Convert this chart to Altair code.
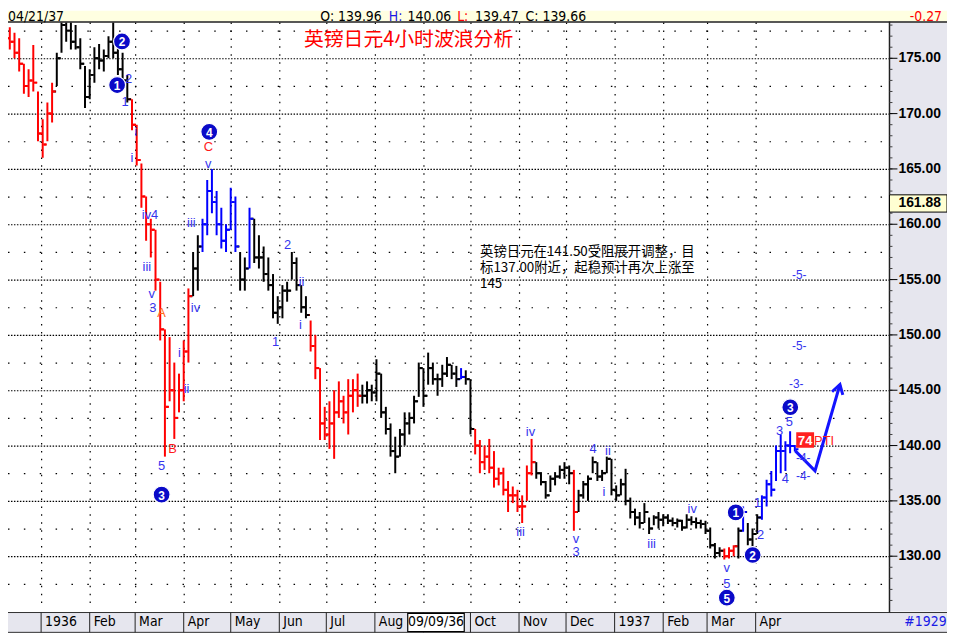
import altair as alt
import pandas as pd

EPOCH = pd.Timestamp("1936-01-01")

# ---------------- price bars (one bar every 3 days) ----------------
bar_start = "1935-12-06"
bar_step_days = 3
first_open = 177.6
highs = [178.3, 178.0, 177.8, 177.3, 176.8, 174.5, 174.0, 176.2, 172.0, 169.5,
         171.0, 172.8, 175.5, 178.5, 178.5, 178.3, 178.0, 176.8, 174.3, 174.0,
         176.0, 176.3, 175.8, 177.0, 178.3, 176.5, 175.5, 173.5, 171.3, 169.0,
         165.5, 162.5, 160.5, 159.5, 154.8, 150.5, 149.8, 147.5, 146.5, 149.5,
         154.2, 157.5, 159.0, 160.5, 164.0, 165.0, 163.0, 161.5, 160.0, 163.3,
         162.5, 157.5, 157.0, 161.5, 160.5, 159.0, 158.0, 157.0, 155.5, 153.5,
         154.5, 154.8, 157.5, 157.0, 154.5, 153.5, 151.3, 150.0, 147.0, 143.5,
         144.0, 145.0, 145.8, 144.5, 146.0, 146.0, 146.5, 145.5, 145.8, 145.5,
         147.8, 146.5, 143.5, 142.0, 140.8, 141.5, 143.0, 143.0, 144.5, 147.5,
         147.0, 148.4, 147.5, 146.5, 147.3, 148.0, 147.3, 147.2, 147.0, 146.8,
         146.0, 141.5, 140.5, 140.0, 140.6, 139.5, 138.0, 138.0, 136.8, 136.3,
         136.0, 135.5, 138.2, 140.6, 138.5, 137.6, 136.8, 137.3, 137.6, 138.2,
         138.5, 138.2, 137.8, 136.0, 136.8, 137.3, 139.0, 138.5, 137.8, 139.0,
         138.8, 136.4, 137.0, 137.9, 135.3, 134.3, 134.0, 134.8, 133.5, 133.7,
         134.0, 133.8, 133.8, 133.5, 133.4, 133.3, 133.8, 133.6, 133.5, 133.3,
         133.2, 132.6, 131.2, 130.8, 130.7, 130.8, 131.0, 132.6, 134.5, 133.0,
         132.5, 133.8, 135.5, 136.9, 137.7, 140.0, 141.0, 140.4, 141.3, 140.06]
lows = [176.5, 176.2, 175.8, 175.0, 173.8, 171.8, 171.5, 172.0, 167.5, 166.0,
        167.5, 169.2, 172.5, 175.5, 176.5, 175.8, 175.8, 174.0, 170.5, 171.3,
        172.8, 174.0, 173.8, 175.0, 175.0, 173.5, 172.5, 171.0, 168.5, 165.3,
        161.5, 158.5, 157.0, 154.0, 149.5, 139.0, 144.0, 140.6, 143.0, 144.0,
        147.5, 153.5, 154.0, 157.5, 159.0, 161.0, 159.0, 157.8, 157.5, 159.5,
        157.5, 154.0, 154.0, 156.0, 156.5, 156.0, 154.8, 154.0, 151.5, 151.0,
        151.5, 153.0, 155.0, 154.0, 152.0, 151.5, 148.5, 146.0, 140.5, 140.5,
        139.7, 138.8, 142.5, 142.0, 141.0, 143.0, 143.5, 143.8, 143.8, 144.0,
        144.0, 142.5, 141.0, 139.0, 137.5, 139.0, 140.0, 141.0, 142.0, 144.4,
        143.5, 145.5, 145.5, 144.5, 145.3, 146.2, 146.0, 145.3, 146.0, 145.5,
        141.0, 139.2, 137.5, 137.8, 137.5, 136.2, 136.4, 135.5, 134.0, 134.8,
        134.0, 133.0, 135.0, 137.3, 137.0, 136.4, 135.2, 135.8, 136.4, 137.0,
        137.0, 136.5, 132.3, 134.0, 135.2, 135.0, 137.5, 136.8, 136.8, 137.5,
        135.5, 135.0, 135.5, 134.6, 133.4, 132.8, 132.5, 133.0, 132.0, 132.8,
        132.5, 132.7, 132.9, 132.7, 132.6, 132.3, 132.5, 132.8, 132.5, 132.5,
        132.0, 130.7, 129.8, 130.0, 129.7, 129.8, 130.0, 129.8, 132.2, 131.0,
        130.9, 132.0, 133.3, 134.5, 135.4, 136.8, 137.5, 137.7, 139.3, 139.47]
closes = [177.0, 176.8, 176.5, 175.5, 174.5, 172.5, 173.0, 172.8, 168.2, 167.2,
          170.0, 172.0, 175.0, 178.0, 177.5, 176.5, 176.0, 174.5, 171.5, 173.5,
          175.0, 174.8, 175.2, 176.5, 175.5, 174.0, 173.0, 171.3, 169.0, 165.8,
          162.5, 160.0, 159.5, 155.0, 150.5, 143.5, 145.0, 142.5, 145.0, 148.5,
          153.5, 156.0, 158.0, 160.0, 163.0, 162.0, 160.0, 158.5, 159.5, 162.0,
          158.0, 155.0, 156.0, 160.5, 157.0, 157.0, 155.5, 154.5, 152.0, 152.5,
          154.0, 154.0, 156.5, 154.5, 152.5, 151.8, 149.0, 147.0, 142.0, 141.0,
          142.0, 143.0, 144.0, 143.0, 144.5, 145.0, 144.5, 144.5, 145.0, 144.8,
          146.5, 143.0, 141.5, 139.5, 139.0, 141.0, 142.0, 142.5, 144.0, 147.0,
          144.5, 147.0, 146.0, 146.0, 146.5, 147.3, 146.5, 146.0, 146.2, 146.0,
          141.5, 140.0, 138.5, 139.0, 138.0, 137.0, 137.5, 136.0, 135.5, 135.5,
          134.5, 134.5, 137.5, 138.5, 137.5, 136.7, 135.5, 137.0, 137.2, 137.8,
          138.0, 137.5, 134.0, 135.5, 136.5, 137.0, 138.5, 137.2, 137.5, 138.8,
          136.0, 135.5, 136.5, 135.0, 134.0, 133.5, 133.0, 134.0, 132.5, 133.5,
          133.3, 133.5, 133.2, 133.0, 133.2, 132.6, 133.3, 133.1, 133.0, 132.9,
          132.3, 131.0, 130.3, 130.5, 130.0, 130.5, 130.9, 132.3, 134.0, 131.5,
          132.0, 133.5, 135.3, 136.5, 136.0, 139.5, 139.5, 140.0, 139.96, 139.66]
seg_colors = ["#FF0000", "#000000", "#FF0000", "#000000", "#0000FF", "#000000",
              "#0000FF", "#000000", "#FF0000", "#000000", "#0000FF", "#000000",
              "#FF0000", "#000000", "#FF0000", "#000000", "#FF0000", "#000000",
              "#0000FF", "#000000", "#0000FF"]
seg_lengths = [12, 16, 13, 2, 8, 2, 1, 12, 11, 21, 1, 2, 13, 8, 1, 31, 3, 1, 1, 3, 8]

# ---------------- axes ----------------
price_ticks = [130, 135, 140, 145, 150, 155, 160, 165, 170, 175]
price_half = [127.5, 132.5, 137.5, 142.5, 147.5, 152.5, 157.5, 162.5, 167.5, 172.5, 177.5]
price_minor = list(range(126, 179))
month_starts = ["1936-01-01", "1936-02-01", "1936-03-01", "1936-04-01", "1936-05-01",
                "1936-06-01", "1936-07-01", "1936-08-01", "1936-09-01", "1936-10-01",
                "1936-11-01", "1936-12-01", "1937-01-01", "1937-02-01", "1937-03-01",
                "1937-04-01"]
month_names = ["1936", "Feb", "Mar", "Apr", "May", "Jun", "Jul", "Aug", "", "Oct",
               "Nov", "Dec", "1937", "Feb", "Mar", "Apr"]
cursor_date = "1936-09-09"
cursor_label = "09/09/36"
cursor_price = 161.88

# ---------------- header values ----------------
hdr_date = "04/21/37"
hdr_open, hdr_high, hdr_low, hdr_close, hdr_change = 139.96, 140.06, 139.47, 139.66, -0.27
chart_no = "#1929"

# ---------------- wave labels (day offset from 1936-01-01, price) ----------------
wave_text = ["2", "1", "i", "i", "iv4", "iii", "v", "3", "A", "5", "B", "i", "ii",
             "iii", "iv", "C", "v", "2", "ii", "i", "1", "iv", "iii", "v", "3", "4", "ii",
             "i", "iii", "iv", "v", "5", "1", "2", "3", "5", "4",
             "-4-", "-4-", "-3-", "-5-", "-5-"]
wave_day = [55.8, 53.5, 60.5, 58.0, 69.5, 67.5, 70.6, 71.3, 76.9, 76.9, 83.9, 88.3, 92.8,
            95.9, 98.5, 106.7, 106.7, 157.3, 166.2, 165.5, 149.7, 312.3, 306.0, 341.4, 341.4,
            352.2, 361.7, 359.2, 389.6, 415.5, 437.6, 437.6, 457.3, 459.2, 471.2, 477.5, 475.0,
            486.4, 486.4, 481.9, 483.8, 483.8]
wave_price = [173.10, 171.05, 168.37, 165.95, 160.85, 156.09, 153.70, 152.40, 151.97,
              138.17, 139.70, 148.39, 145.07, 160.13, 152.42, 166.95, 165.40, 158.15, 154.75,
              150.90, 149.37, 141.22, 132.17, 131.58, 130.35, 139.70, 139.52, 135.84, 131.09,
              134.23, 128.95, 127.50, 134.77, 131.90, 141.30, 142.15, 137.00, 138.85, 137.25,
              145.52, 149.01, 155.38]
abc_colors = {"A": "#FF6A1A", "B": "#FF1A1A", "C": "#FF1A1A"}

circle_text = ["2", "1", "4", "3", "1", "2", "5", "3"]
circle_day = [51.6, 48.5, 107.3, 76.9, 443.3, 454.1, 437.6, 478.1]
circle_price = [176.52, 172.58, 168.35, 135.57, 133.96, 130.11, 126.25, 143.46]

pti_day, pti_price, pti_value, pti_tag = 487.6, 140.5, "74", "PTI"
arrow_day = [481.3, 493.9, 509.8]
arrow_price = [139.52, 137.72, 145.52]

title_text = "英镑日元4小时波浪分析"
note_lines = ["英镑日元在141.50受阻展开调整，目", "标137.00附近，起稳预计再次上涨至", "145"]
note_day, note_price = 280.1, 158.1

# ================= build =================
W, H = 889, 592
xs = alt.Scale(domain=[-21.14, 541.42], nice=False, zero=False)
ys = alt.Scale(domain=[125.18, 178.23], nice=False, zero=False)


def X(f):
    return alt.X(f, type="quantitative", scale=xs, axis=None)


def Y(f):
    return alt.Y(f, type="quantitative", scale=ys, axis=None)


def day(s):
    return (pd.Timestamp(s) - EPOCH).days


n = len(closes)
cols = []
for c, k in zip(seg_colors, seg_lengths):
    cols += [c] * k
bars = pd.DataFrame({
    "d": [day(bar_start) + bar_step_days * i for i in range(n)],
    "high": highs, "low": lows, "close": closes,
    "open": [first_open] + closes[:-1],
    "col": cols,
})

one = pd.DataFrame({"k": [0]})
SANS = "Liberation Sans, Arial, sans-serif"
NARROW = "Liberation Sans Narrow, Arial Narrow, DejaVu Sans Condensed, sans-serif"
CJK = "Noto Sans CJK SC"
PANEL = "#E6E6EE"

layers = []
# backgrounds
layers.append(alt.Chart(one).mark_rect(color="white").encode(
    x=alt.value(0), x2=alt.value(W), y=alt.value(0), y2=alt.value(H)))
layers.append(alt.Chart(one).mark_rect(color=PANEL).encode(
    x=alt.value(W), x2=alt.value(947), y=alt.value(0), y2=alt.value(594)))
layers.append(alt.Chart(one).mark_rect(color=PANEL, stroke="#303030", strokeWidth=1).encode(
    x=alt.value(-1), x2=alt.value(948), y=alt.value(595), y2=alt.value(615)))
layers.append(alt.Chart(one).mark_rect(color="#FFFFE1").encode(
    x=alt.value(0), x2=alt.value(947), y=alt.value(-12), y2=alt.value(-1)))

# grid
layers.append(alt.Chart(pd.DataFrame({"p": price_half})).mark_rule(
    color="#000000", strokeDash=[1.5, 14.5], strokeWidth=1.2, yOffset=0.5).encode(
    y=Y("p"), x=alt.value(0), x2=alt.value(W)))
months = pd.DataFrame({"d": [day(s) for s in month_starts], "m": month_names})
layers.append(alt.Chart(months).mark_rule(
    color="#000000", strokeDash=[1.5, 6.5], strokeWidth=1.2, xOffset=0.5).encode(
    x=X("d"), y=alt.value(0), y2=alt.value(H)))
layers.append(alt.Chart(pd.DataFrame({"p": price_ticks})).mark_rule(
    color="#000000", strokeDash=[1.5, 1.5], strokeWidth=1.2, yOffset=0.5).encode(
    y=Y("p"), x=alt.value(0), x2=alt.value(W)))

# price bars
colenc = alt.Color("col:N", scale=None)
layers.append(alt.Chart(bars).mark_rule(strokeWidth=2, clip=True).encode(
    x=X("d"), y=Y("low"), y2="high", color=colenc))
layers.append(alt.Chart(bars).mark_tick(orient="horizontal", size=3, thickness=2,
                                        xOffset=-2.2, clip=True, opacity=1).encode(
    x=X("d"), y=Y("open"), color=colenc))
layers.append(alt.Chart(bars).mark_tick(orient="horizontal", size=3, thickness=2,
                                        xOffset=2.2, clip=True, opacity=1).encode(
    x=X("d"), y=Y("close"), color=colenc))

# frame lines
layers.append(alt.Chart(one).mark_rule(color="#202020", strokeWidth=1.5).encode(
    x=alt.value(W), y=alt.value(-1), y2=alt.value(595)))
layers.append(alt.Chart(one).mark_rule(color="#202020", strokeWidth=1.5).encode(
    x=alt.value(0), x2=alt.value(947), y=alt.value(-0.5)))

# right axis
layers.append(alt.Chart(pd.DataFrame({"p": price_minor})).mark_rule(
    color="#404040", strokeWidth=1).encode(y=Y("p"), x=alt.value(W), x2=alt.value(W + 3)))
layers.append(alt.Chart(pd.DataFrame({"p": price_ticks})).mark_rule(
    color="black", strokeWidth=1).encode(y=Y("p"), x=alt.value(W), x2=alt.value(W + 8)))
ptick = pd.DataFrame({"p": price_ticks, "t": [f"{v:.2f}" for v in price_ticks]})
layers.append(alt.Chart(ptick).mark_text(
    align="left", baseline="middle", font=SANS, fontSize=14, fontWeight="bold",
    color="black").encode(y=Y("p"), x=alt.value(W + 9), text="t:N"))
cur = pd.DataFrame({"p": [cursor_price], "t": [f"{cursor_price:.2f}"]})
layers.append(alt.Chart(cur).mark_point(
    shape="M -1 -0.3 L 1 -0.3 L 1 0.3 L -1 0.3 Z", size=3364, filled=True,
    fill="#FFFFD2", stroke="black", strokeWidth=1, opacity=1).encode(
    y=Y("p"), x=alt.value(W + 29)))
layers.append(alt.Chart(cur).mark_text(
    align="left", baseline="middle", font=SANS, fontSize=14, fontWeight="bold",
    color="black").encode(y=Y("p"), x=alt.value(W + 9), text="t:N"))

# bottom date strip
layers.append(alt.Chart(months).mark_rule(color="#202020", strokeWidth=1).encode(
    x=X("d"), y=alt.value(595), y2=alt.value(615)))
layers.append(alt.Chart(months).mark_text(
    align="left", baseline="middle", dx=4, font=NARROW, fontSize=14, color="black").encode(
    x=X("d"), y=alt.value(605), text="m:N"))
curd = pd.DataFrame({"d": [day(cursor_date)], "t": [cursor_label]})
layers.append(alt.Chart(curd).mark_point(
    shape="M -1 -0.32 L 1 -0.32 L 1 0.32 L -1 0.32 Z", size=3249, filled=True,
    fill="white", stroke="black", strokeWidth=1.2, opacity=1).encode(
    x=X("d"), y=alt.value(605)))
layers.append(alt.Chart(curd).mark_text(
    align="center", baseline="middle", font=NARROW, fontSize=14, color="black").encode(
    x=X("d"), y=alt.value(605), text="t:N"))
layers.append(alt.Chart(one).mark_text(
    text=chart_no, align="left", baseline="middle", font=NARROW, fontSize=14,
    color="#1A1AE6").encode(x=alt.value(904), y=alt.value(605)))

# header texts
hdr = [
    (hdr_date, 0, "left", "black"),
    (f"O: {hdr_open:.2f}", 315, "left", "black"),
    ("H:", 384, "left", "#1A1AE6"),
    (f"{hdr_high:.2f}", 403, "left", "black"),
    ("L:", 453, "left", "#FF0000"),
    (f"{hdr_low:.2f}", 471, "left", "black"),
    (f"C: {hdr_close:.2f}", 522, "left", "black"),
    (f"{hdr_change:.2f}", 942, "right", "#FF0000"),
]
for txt, px, al, colr in hdr:
    layers.append(alt.Chart(one).mark_text(
        text=txt, align=al, baseline="alphabetic", font=NARROW, fontSize=14,
        color=colr).encode(x=alt.value(px), y=alt.value(-2)))

# title and note
layers.append(alt.Chart(one).mark_text(
    text=title_text, align="center", baseline="middle", font=CJK, fontSize=20,
    color="#FF0000").encode(x=alt.value(404), y=alt.value(18)))
note = pd.DataFrame({"d": [note_day], "p": [note_price], "t": ["\n".join(note_lines)]})
layers.append(alt.Chart(note).mark_text(
    align="left", baseline="top", lineBreak="\n", lineHeight=16, font=CJK, fontSize=13.5,
    color="black").encode(x=X("d"), y=Y("p"), text="t:N"))

# projection arrow
arr = pd.DataFrame({"d": arrow_day, "p": arrow_price, "o": list(range(len(arrow_day)))})
layers.append(alt.Chart(arr).mark_line(color="#1414FF", strokeWidth=3).encode(
    x=X("d"), y=Y("p"), order="o:Q"))
layers.append(alt.Chart(arr.tail(1)).mark_point(
    shape="M -0.55 0.9 L 0 0 L 0.55 0.9", filled=False, strokeWidth=3, size=420,
    angle=16, color="#1414FF", opacity=1).encode(x=X("d"), y=Y("p")))

# wave labels
waves = pd.DataFrame({
    "t": wave_text, "d": wave_day, "p": wave_price,
    "c": [abc_colors.get(t, "#3434EE") for t in wave_text],
    "s": [12 if t.startswith("-") else 13 for t in wave_text],
})
layers.append(alt.Chart(waves).mark_text(
    align="center", baseline="middle", font=SANS).encode(
    x=X("d"), y=Y("p"), text="t:N", color=alt.Color("c:N", scale=None),
    size=alt.Size("s:Q", scale=None)))

circ = pd.DataFrame({"t": circle_text, "d": circle_day, "p": circle_price})
layers.append(alt.Chart(circ).mark_point(
    shape="circle", size=290, filled=True, fill="#0A0AC8", stroke="#FFFFFF",
    strokeWidth=1.2, opacity=1).encode(x=X("d"), y=Y("p")))
layers.append(alt.Chart(circ).mark_text(
    align="center", baseline="middle", font=SANS, fontSize=12, fontWeight="bold",
    color="white", dy=1).encode(x=X("d"), y=Y("p"), text="t:N"))

pti = pd.DataFrame({"d": [pti_day], "p": [pti_price], "v": [pti_value], "g": [pti_tag]})
layers.append(alt.Chart(pti).mark_point(
    shape="M -1 -0.85 L 1 -0.85 L 1 0.85 L -1 0.85 Z", size=256, filled=True,
    fill="#FF2020", stroke="#FF2020", opacity=1).encode(x=X("d"), y=Y("p")))
layers.append(alt.Chart(pti).mark_text(
    align="center", baseline="middle", font=SANS, fontSize=13, fontWeight="bold",
    color="white", dy=1).encode(x=X("d"), y=Y("p"), text="v:N"))
layers.append(alt.Chart(pti).mark_text(
    align="left", baseline="middle", font=SANS, fontSize=13, color="#FF2020",
    dx=9, dy=1).encode(x=X("d"), y=Y("p"), text="g:N"))

chart = alt.layer(*layers).properties(
    width=W, height=H,
    autosize=alt.AutoSizeParams(type="none"),
    padding={"left": 0, "top": 12, "right": 58, "bottom": 22},
    background="white",
).configure_view(stroke=None)

chart.save("out.html", embed_options={"renderer": "svg", "actions": False})
